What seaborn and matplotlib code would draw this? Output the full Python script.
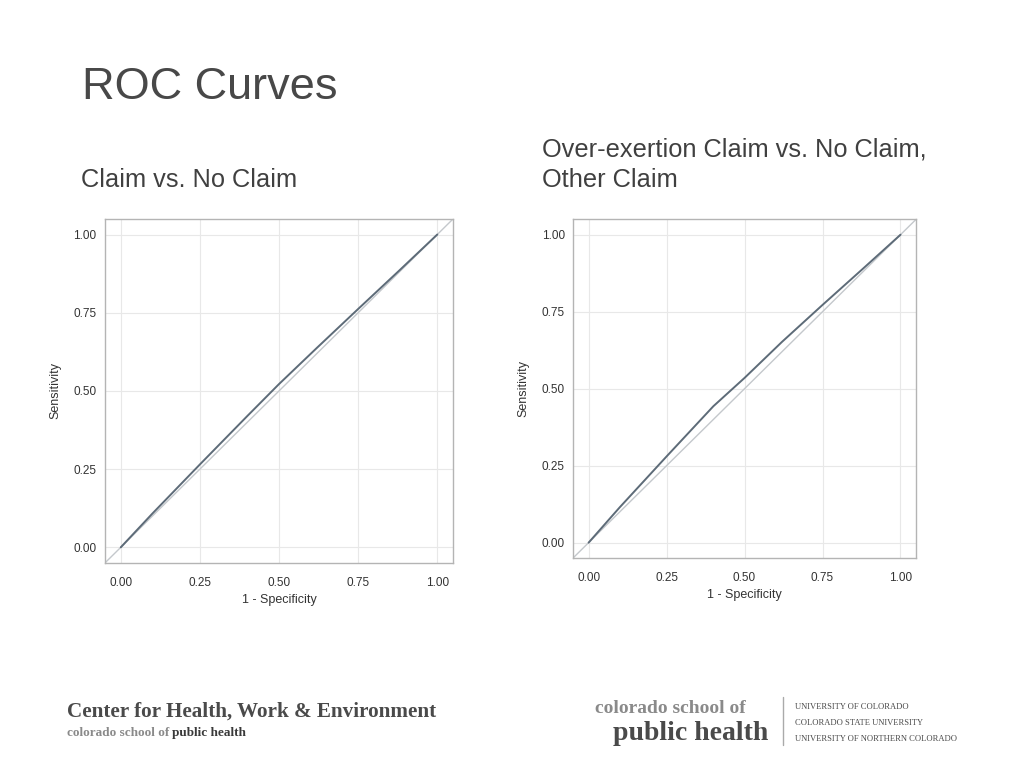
import pandas as pd
import seaborn as sns
import matplotlib.pyplot as plt

# ROC points
claim_fpr = [0.0, 0.10, 0.25, 0.40, 0.50, 0.62, 0.75, 0.88, 1.0]
claim_tpr = [0.0, 0.108, 0.265, 0.42, 0.522, 0.638, 0.762, 0.885, 1.0]

overex_fpr = [0.0, 0.10, 0.25, 0.40, 0.50, 0.62, 0.75, 0.88, 1.0]
overex_tpr = [0.0, 0.115, 0.28, 0.443, 0.535, 0.652, 0.772, 0.89, 1.0]

ref = [-0.05, 1.05]
ticks = [0.0, 0.25, 0.5, 0.75, 1.0]
tick_labels = ["0.00", "0.25", "0.50", "0.75", "1.00"]

sns.set_style("white")
plt.rcParams['font.family'] = ['Liberation Sans', 'DejaVu Sans']

fig = plt.figure(figsize=(10.24, 7.68), dpi=100)
fig.patch.set_facecolor("white")

fig.text(0.080, 0.886, "ROC Curves", fontsize=32.5, color="#484848", va="center")
fig.text(0.079, 0.765, "Claim vs. No Claim", fontsize=18.3, color="#404040", va="center")
fig.text(0.529, 0.805, "Over-exertion Claim vs. No Claim,", fontsize=18.3, color="#404040", va="center")
fig.text(0.529, 0.765, "Other Claim", fontsize=18.3, color="#404040", va="center")


def roc_panel(rect, fpr, tpr):
    ax = fig.add_axes(rect)
    df = pd.DataFrame({"fpr": fpr, "tpr": tpr})
    sns.lineplot(x=ref, y=ref, ax=ax, color="#c4c8cc", linewidth=1.0)
    sns.lineplot(data=df, x="fpr", y="tpr", ax=ax, color="#5d6b78", linewidth=1.4)
    ax.set_xlim(-0.05, 1.05)
    ax.set_ylim(-0.05, 1.05)
    ax.set_xticks(ticks)
    ax.set_yticks(ticks)
    ax.set_xticklabels(tick_labels, fontsize=8.5, color="#333333")
    ax.set_yticklabels(tick_labels, fontsize=8.5, color="#333333")
    ax.grid(True, color="#e8e8e8", linewidth=0.8)
    ax.set_axisbelow(True)
    for s in ax.spines.values():
        s.set_color("#b4b4b4")
        s.set_linewidth(1.0)
    ax.tick_params(axis="x", length=0, pad=10)
    ax.tick_params(axis="y", length=0, pad=6)
    ax.set_xlabel("1 - Specificity", fontsize=9, color="#333333", labelpad=4)
    ax.set_ylabel("Sensitivity", fontsize=9, color="#333333", labelpad=9)
    return ax


roc_panel([0.1025, 0.267, 0.340, 0.448], claim_fpr, claim_tpr)
roc_panel([0.5596, 0.2734, 0.335, 0.441], overex_fpr, overex_tpr)

# footer logos
serif = ["Liberation Serif", "DejaVu Serif"]
r = fig.canvas.get_renderer()


def after(t):
    bb = t.get_window_extent(renderer=r)
    return bb.x1 / fig.bbox.width


fig.text(0.065, 0.073, "Center for Health, Work & Environment", fontsize=15.2,
         fontweight="bold", family=serif, color="#4a4a4a", va="center")
t = fig.text(0.065, 0.046, "colorado school of ", fontsize=9.5, fontweight="bold",
             family=serif, color="#8a8a8a", va="center")
fig.text(after(t), 0.046, "public health", fontsize=9.5, fontweight="bold",
         family=serif, color="#3a3a3a", va="center")

fig.text(0.581, 0.077, "colorado school of", fontsize=14, fontweight="bold",
         family=serif, color="#8a8a8a", va="center")
fig.text(0.599, 0.045, "public health", fontsize=20, fontweight="bold",
         family=serif, color="#4a4a4a", va="center")
fig.add_artist(plt.Line2D([0.7645, 0.7645], [0.030, 0.093], color="#aaaaaa", linewidth=1))
for i, s in enumerate(["UNIVERSITY OF COLORADO", "COLORADO STATE UNIVERSITY",
                       "UNIVERSITY OF NORTHERN COLORADO"]):
    fig.text(0.776, 0.079 - i * 0.0205, s, fontsize=6.1, family=serif,
             color="#4a4a4a", va="center")

fig.savefig("out.png", dpi=100, facecolor="white")
